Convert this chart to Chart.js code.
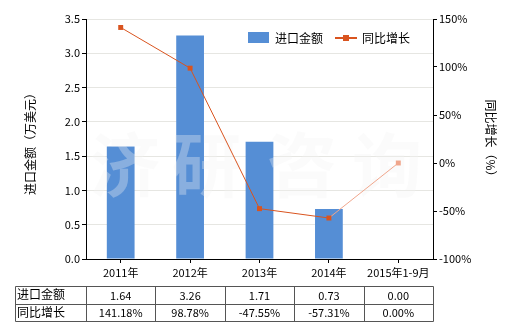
<!DOCTYPE html>
<html>
<head>
<meta charset="utf-8">
<script src="https://cdn.jsdelivr.net/npm/chart.js@4"></script>
<style>
  html, body { margin: 0; padding: 0; background: #fff; }
  #wrap { width: 520px; height: 330px; }
</style>
</head>
<body>
<div id="wrap"><canvas id="chart" width="520" height="330"></canvas></div>
<script>
// chart data
const categories = ['2011年', '2012年', '2013年', '2014年', '2015年1-9月'];
const importValues = [1.64, 3.26, 1.71, 0.73, 0.00];
const growthValues = [141.18, 98.78, -47.55, -57.31, 0.00];
const importLabels = ['1.64', '3.26', '1.71', '0.73', '0.00'];
const growthLabels = ['141.18%', '98.78%', '-47.55%', '-57.31%', '0.00%'];
const seriesNames = ['进口金额', '同比增长'];

const FONT = '"Noto Sans CJK SC", "Microsoft YaHei", sans-serif';
const BAR_COLOR = '#558ed5';
const LINE_COLOR = '#d9541f';
const LINE_FADED = '#f0a68c';

// watermark, legend, axis titles and the data table under the plot
const extrasPlugin = {
  id: 'extras',
  afterDatasetDraw(chart, args) {
    if (args.meta.type !== 'bar') return;
    const ctx = chart.ctx;
    const area = chart.chartArea;
    ctx.save();
    ctx.beginPath();
    ctx.rect(area.left, area.top, area.right - area.left, area.bottom - area.top);
    ctx.clip();
    ctx.fillStyle = 'rgba(242,242,242,0.33)';
    ctx.font = 'bold 70px ' + FONT;
    ctx.textAlign = 'center';
    ctx.textBaseline = 'middle';
    const chars = ['济', '研', '咨', '询'];
    const xs = [125, 207, 302, 387];
    chars.forEach((c, i) => ctx.fillText(c, xs[i], 165));
    ctx.restore();
  },
  afterDraw(chart) {
    const ctx = chart.ctx;
    const x = chart.scales.x;
    ctx.save();

    // legend
    ctx.fillStyle = BAR_COLOR;
    ctx.fillRect(248, 32, 21, 11);
    ctx.fillStyle = '#000';
    ctx.font = '12px ' + FONT;
    ctx.textBaseline = 'middle';
    ctx.textAlign = 'left';
    ctx.fillText(seriesNames[0], 275, 38);
    ctx.strokeStyle = LINE_COLOR;
    ctx.lineWidth = 2;
    ctx.beginPath();
    ctx.moveTo(335, 38);
    ctx.lineTo(357, 38);
    ctx.stroke();
    ctx.fillStyle = LINE_COLOR;
    ctx.fillRect(343, 35, 6, 6);
    ctx.fillStyle = '#000';
    ctx.fillText(seriesNames[1], 362, 38);

    // axis titles
    ctx.font = '12px ' + FONT;
    ctx.textAlign = 'center';
    ctx.save();
    ctx.translate(30, 141);
    ctx.rotate(-Math.PI / 2);
    ctx.fillText('进口金额（万美元）', 0, 0);
    ctx.restore();
    ctx.save();
    ctx.translate(491, 141);
    ctx.rotate(Math.PI / 2);
    ctx.fillText('同比增长（%）', 0, 0);
    ctx.restore();

    // table
    const left = 15.5;
    const right = x.right + 0.5;
    const rows = [286.5, 304.5, 321.5];
    const step = (x.right - x.left) / categories.length;
    ctx.strokeStyle = '#555';
    ctx.lineWidth = 1;
    ctx.beginPath();
    rows.forEach(r => { ctx.moveTo(left, r); ctx.lineTo(right, r); });
    ctx.moveTo(left, rows[0]); ctx.lineTo(left, rows[2]);
    for (let i = 0; i <= categories.length; i++) {
      const cx = Math.round(x.left + step * i) + 0.5;
      ctx.moveTo(cx, rows[0]);
      ctx.lineTo(cx, rows[2]);
    }
    ctx.stroke();

    ctx.fillStyle = '#000';
    ctx.font = '12px ' + FONT;
    ctx.textAlign = 'left';
    ctx.fillText(seriesNames[0], 17, 294);
    ctx.fillText(seriesNames[1], 17, 312);
    ctx.textAlign = 'center';
    ctx.font = '11px ' + FONT;
    categories.forEach((c, i) => {
      const cx = x.getPixelForValue(i);
      ctx.fillText(importLabels[i], cx, 296);
      ctx.fillText(growthLabels[i], cx, 313);
    });
    ctx.restore();
  }
};

const lastIdx = categories.length - 1;

new Chart(document.getElementById('chart').getContext('2d'), {
  data: {
    labels: categories,
    datasets: [
      {
        type: 'line',
        label: seriesNames[1],
        data: growthValues,
        yAxisID: 'y1',
        order: 0,
        borderColor: LINE_COLOR,
        borderWidth: 1,
        pointStyle: 'rect',
        pointRadius: 3.5,
        pointBorderWidth: 0,
        pointBackgroundColor: growthValues.map((v, i) => i === lastIdx ? LINE_FADED : LINE_COLOR),
        segment: {
          borderColor: c => c.p1DataIndex === lastIdx ? LINE_FADED : LINE_COLOR
        },
        tension: 0
      },
      {
        type: 'bar',
        label: seriesNames[0],
        data: importValues,
        yAxisID: 'y',
        order: 1,
        backgroundColor: BAR_COLOR,
        barPercentage: 0.4,
        categoryPercentage: 1
      }
    ]
  },
  options: {
    responsive: false,
    animation: false,
    layout: { padding: { top: 19, left: 0, right: 0, bottom: 0 } },
    plugins: {
      legend: { display: false },
      tooltip: { enabled: false }
    },
    scales: {
      x: {
        afterFit: s => { s.height = 71; },
        border: { color: '#000' },
        grid: { offset: false, drawOnChartArea: false, tickLength: 4, tickColor: '#000' },
        ticks: { color: '#000', font: { family: FONT, size: 11 }, padding: 3, maxRotation: 0, autoSkip: false }
      },
      y: {
        position: 'left',
        min: 0,
        max: 3.5,
        afterFit: s => { s.width = 86; },
        border: { color: '#000' },
        grid: { color: '#e6e6e2', tickLength: 4, tickColor: '#000' },
        ticks: {
          stepSize: 0.5,
          color: '#000',
          font: { family: FONT, size: 11 },
          padding: 2,
          callback: v => v.toFixed(1)
        }
      },
      y1: {
        position: 'right',
        min: -100,
        max: 150,
        afterFit: s => { s.width = 87; },
        border: { color: '#000' },
        grid: { drawOnChartArea: false, tickLength: 4, tickColor: '#000' },
        ticks: {
          stepSize: 50,
          color: '#000',
          font: { family: FONT, size: 11 },
          padding: 2,
          callback: v => v + '%'
        }
      }
    }
  },
  plugins: [extrasPlugin]
});
</script>
</body>
</html>
